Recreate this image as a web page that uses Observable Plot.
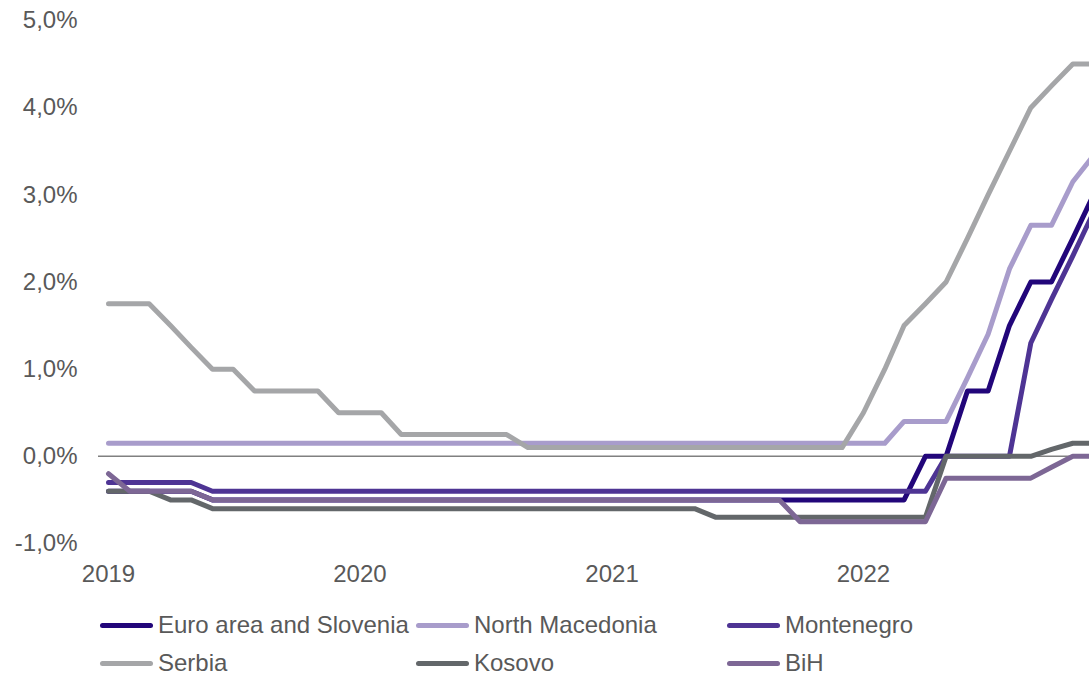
<!DOCTYPE html>
<html>
<head>
<meta charset="utf-8">
<script src="https://cdn.jsdelivr.net/npm/d3@7"></script>
<script src="https://cdn.jsdelivr.net/npm/@observablehq/plot@0.6"></script>
<style>
  html, body { margin: 0; padding: 0; background: #fff; overflow: hidden; width: 1089px; height: 677px; }
  #chart { position: absolute; left: 0; top: 0; }
  #legend { position: absolute; left: 0; top: 0; width: 1089px; height: 677px; font-family: "Liberation Sans", Arial, sans-serif; font-size: 24px; color: #595959; }
  .item { position: absolute; display: flex; align-items: center; white-space: nowrap; height: 18px; line-height: 18px; }
  .sw { width: 53px; height: 5px; border-radius: 3px; margin-right: 5px; }
</style>
</head>
<body>
<div id="chart"></div>
<div id="legend"></div>
<script>
// ---- Data (monthly, Jan 2019 – Dec 2022), policy/deposit rates in % ----
const months = d3.utcMonth.range(new Date(Date.UTC(2019, 0, 1)), new Date(Date.UTC(2023, 0, 1)));
const yearTicks = [2019, 2020, 2021, 2022];
const yTicks = [-1, 0, 1, 2, 3, 4, 5];

const seriesNames = ["Euro area and Slovenia", "North Macedonia", "Montenegro", "Serbia", "Kosovo", "BiH"];
const seriesColors = ["#22067a", "#a89ccb", "#4e3494", "#a5a6a8", "#63676a", "#7d6795"];

const euroArea = [
  -0.4, -0.4, -0.4, -0.4, -0.4, -0.5, -0.5, -0.5, -0.5, -0.5, -0.5, -0.5,
  -0.5, -0.5, -0.5, -0.5, -0.5, -0.5, -0.5, -0.5, -0.5, -0.5, -0.5, -0.5,
  -0.5, -0.5, -0.5, -0.5, -0.5, -0.5, -0.5, -0.5, -0.5, -0.5, -0.5, -0.5,
  -0.5, -0.5, -0.5, 0.0, 0.0, 0.75, 0.75, 1.5, 2.0, 2.0, 2.5, 3.0
];
const northMacedonia = [
  0.15, 0.15, 0.15, 0.15, 0.15, 0.15, 0.15, 0.15, 0.15, 0.15, 0.15, 0.15,
  0.15, 0.15, 0.15, 0.15, 0.15, 0.15, 0.15, 0.15, 0.15, 0.15, 0.15, 0.15,
  0.15, 0.15, 0.15, 0.15, 0.15, 0.15, 0.15, 0.15, 0.15, 0.15, 0.15, 0.15,
  0.15, 0.15, 0.4, 0.4, 0.4, 0.9, 1.4, 2.15, 2.65, 2.65, 3.15, 3.45
];
const montenegro = [
  -0.3, -0.3, -0.3, -0.3, -0.3, -0.4, -0.4, -0.4, -0.4, -0.4, -0.4, -0.4,
  -0.4, -0.4, -0.4, -0.4, -0.4, -0.4, -0.4, -0.4, -0.4, -0.4, -0.4, -0.4,
  -0.4, -0.4, -0.4, -0.4, -0.4, -0.4, -0.4, -0.4, -0.4, -0.4, -0.4, -0.4,
  -0.4, -0.4, -0.4, -0.4, 0.0, 0.0, 0.0, 0.0, 1.3, 1.8, 2.3, 2.8
];
const serbia = [
  1.75, 1.75, 1.75, 1.5, 1.25, 1.0, 1.0, 0.75, 0.75, 0.75, 0.75, 0.5,
  0.5, 0.5, 0.25, 0.25, 0.25, 0.25, 0.25, 0.25, 0.1, 0.1, 0.1, 0.1,
  0.1, 0.1, 0.1, 0.1, 0.1, 0.1, 0.1, 0.1, 0.1, 0.1, 0.1, 0.1,
  0.5, 1.0, 1.5, 1.75, 2.0, 2.5, 3.0, 3.5, 4.0, 4.25, 4.5, 4.5
];
const kosovo = [
  -0.4, -0.4, -0.4, -0.5, -0.5, -0.6, -0.6, -0.6, -0.6, -0.6, -0.6, -0.6,
  -0.6, -0.6, -0.6, -0.6, -0.6, -0.6, -0.6, -0.6, -0.6, -0.6, -0.6, -0.6,
  -0.6, -0.6, -0.6, -0.6, -0.6, -0.7, -0.7, -0.7, -0.7, -0.7, -0.7, -0.7,
  -0.7, -0.7, -0.7, -0.7, 0.0, 0.0, 0.0, 0.0, 0.0, 0.08, 0.15, 0.15
];
const bih = [
  -0.2, -0.4, -0.4, -0.4, -0.4, -0.5, -0.5, -0.5, -0.5, -0.5, -0.5, -0.5,
  -0.5, -0.5, -0.5, -0.5, -0.5, -0.5, -0.5, -0.5, -0.5, -0.5, -0.5, -0.5,
  -0.5, -0.5, -0.5, -0.5, -0.5, -0.5, -0.5, -0.5, -0.5, -0.75, -0.75, -0.75,
  -0.75, -0.75, -0.75, -0.75, -0.25, -0.25, -0.25, -0.25, -0.25, -0.125, 0.0, 0.0
];
const seriesValues = [euroArea, northMacedonia, montenegro, serbia, kosovo, bih];

// ---- Chart ----
const fmtPct = d => (d < 0 ? "-" : "") + Math.abs(d).toFixed(1).replace(".", ",") + "%";

const lineMarks = seriesValues.map((vals, k) =>
  Plot.line(vals.map((v, i) => ({date: months[i], value: v})), {
    x: "date", y: "value",
    stroke: seriesColors[k], strokeWidth: 5,
    strokeLinejoin: "round", strokeLinecap: "round",
    clip: true
  })
);

const chart = Plot.plot({
  width: 1089,
  height: 600,
  marginLeft: 98,
  marginRight: 0,
  marginTop: 20,
  marginBottom: 57,
  style: { fontFamily: "'Liberation Sans', Arial, sans-serif", fontSize: "24px", color: "#595959", background: "#fff" },
  x: {
    type: "utc",
    domain: [months[0], months[months.length - 1]],
    range: [108, 1093],
    ticks: yearTicks.map(y => new Date(Date.UTC(y, 0, 1))),
    tickFormat: d => String(d.getUTCFullYear()),
    tickSize: 0, tickPadding: 21, label: null
  },
  y: {
    domain: [-1, 5],
    ticks: yTicks,
    tickFormat: fmtPct,
    tickSize: 0, tickPadding: 21, label: null
  },
  marks: [
    Plot.ruleY([0], { stroke: "#808080", strokeWidth: 1.5 }),
    ...lineMarks
  ]
});
document.getElementById("chart").appendChild(chart);

// ---- Legend (HTML, below the SVG) ----
const legendCols = [100, 416, 727];
const legendRows = [625, 663];
const legend = document.getElementById("legend");
seriesNames.forEach((name, k) => {
  const item = document.createElement("div");
  item.className = "item";
  item.style.left = legendCols[k % 3] + "px";
  item.style.top = (legendRows[Math.floor(k / 3)] - 9) + "px";
  const sw = document.createElement("span");
  sw.className = "sw";
  sw.style.background = seriesColors[k];
  const tx = document.createElement("span");
  tx.textContent = name;
  item.appendChild(sw);
  item.appendChild(tx);
  legend.appendChild(item);
});
</script>
</body>
</html>
